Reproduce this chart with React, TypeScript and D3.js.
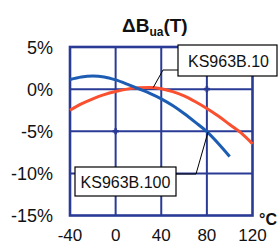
import React from "react";
import * as d3 from "d3";

const xTicks = [-40, 0, 40, 80, 120];
const yTicks = [5, 0, -5, -10, -15];
const yTickLabels = ["5%", "0%", "-5%", "-10%", "-15%"];

const blueTemps = [-40, -30, -20, -10, 0, 10, 20, 30, 40, 50, 60, 70, 80, 90, 100];
const blueValues = [1.15, 1.45, 1.55, 1.45, 1.1, 0.6, 0.05, -0.5, -1.15, -1.95, -2.9, -3.95, -5.05, -6.45, -8.0];

const redTemps = [-40, -30, -20, -10, 0, 10, 20, 30, 40, 50, 60, 70, 80, 90, 100, 110, 120];
const redValues = [-2.5, -1.75, -1.15, -0.65, -0.28, 0.0, 0.15, 0.2, 0.05, -0.3, -0.8, -1.5, -2.3, -3.2, -4.2, -5.2, -6.5];

const crossTicks = [
  [0, -5],
  [80, 0],
];

const NAVY = "#2a3b96";
const BLUE = "#1c5db3";
const RED = "#fa5030";

export default function App() {
  const x = d3.scaleLinear().domain([-40, 120]).range([70, 252.5]);
  const y = d3.scaleLinear().domain([-15, 5]).range([215.5, 47]);

  const line = d3
    .line<[number, number]>()
    .x((d) => x(d[0]))
    .y((d) => y(d[1]))
    .curve(d3.curveMonotoneX);

  const bluePts = blueTemps.map((t, i) => [t, blueValues[i]] as [number, number]);
  const redPts = redTemps.map((t, i) => [t, redValues[i]] as [number, number]);

  const font = "'Liberation Sans', Arial, sans-serif";

  return (
    <svg
      width={278}
      height={245}
      style={{ position: "absolute", left: 0, top: 0, background: "#fff" }}
      fontFamily={font}
    >
      {/* grid */}
      {xTicks.slice(1, -1).map((t) => (
        <line key={"gx" + t} x1={x(t)} x2={x(t)} y1={y(5)} y2={y(-15)} stroke={NAVY} strokeWidth={2} />
      ))}
      {yTicks.slice(1, -1).map((t) => (
        <line key={"gy" + t} x1={x(-40)} x2={x(120)} y1={y(t)} y2={y(t)} stroke={NAVY} strokeWidth={2} />
      ))}
      {crossTicks.map(([t, v], i) => (
        <g key={"c" + i}>
          <line x1={x(t) - 3} x2={x(t) + 3} y1={y(v)} y2={y(v)} stroke={NAVY} strokeWidth={2.6} />
          <line x1={x(t)} x2={x(t)} y1={y(v) - 3} y2={y(v) + 3} stroke={NAVY} strokeWidth={2.6} />
        </g>
      ))}
      {/* frame */}
      <rect
        x={x(-40)}
        y={y(5)}
        width={x(120) - x(-40)}
        height={y(-15) - y(5)}
        fill="none"
        stroke={NAVY}
        strokeWidth={2.6}
      />
      {/* curves */}
      <path d={line(redPts) || ""} fill="none" stroke={RED} strokeWidth={3} />
      <path d={line(bluePts) || ""} fill="none" stroke={BLUE} strokeWidth={3} />

      {/* leader lines */}
      <polyline
        points={`178,70 163,70 ${x(33)},${y(0.2)}`}
        fill="none"
        stroke="#000"
        strokeWidth={1}
      />
      <polyline
        points={`176,174 196,174 ${x(81)},${y(-5.1)}`}
        fill="none"
        stroke="#000"
        strokeWidth={1}
      />

      {/* callout boxes */}
      <rect x={178} y={45} width={99} height={31} fill="#fff" stroke="#000" strokeWidth={1.2} />
      <text x={228.5} y={67} textAnchor="middle" fontSize={16} fill="#111">
        KS963B.10
      </text>
      <rect x={75} y={167} width={101} height={29} fill="#fff" stroke="#000" strokeWidth={1.2} />
      <text x={125.5} y={187.5} textAnchor="middle" fontSize={16} fill="#111">
        KS963B.100
      </text>

      {/* y labels */}
      {yTicks.map((t, i) => (
        <text key={"yl" + t} x={53} y={y(t) + 6.5} textAnchor="end" fontSize={18} fill="#111">
          {yTickLabels[i]}
        </text>
      ))}
      {/* x labels */}
      {xTicks.map((t) => (
        <text key={"xl" + t} x={x(t)} y={240.5} textAnchor="middle" fontSize={17} fill="#111">
          {t}
        </text>
      ))}

      {/* unit */}
      <text x={259} y={225} fontSize={16} fontWeight="bold" fill="#111">
        °C
      </text>

      {/* title */}
      <text x={122} y={32} fontSize={19} fontWeight="bold" fill="#111">
        ΔB
        <tspan fontSize={12} dy={4}>ua</tspan>
        <tspan dy={-4}>(T)</tspan>
      </text>
    </svg>
  );
}
